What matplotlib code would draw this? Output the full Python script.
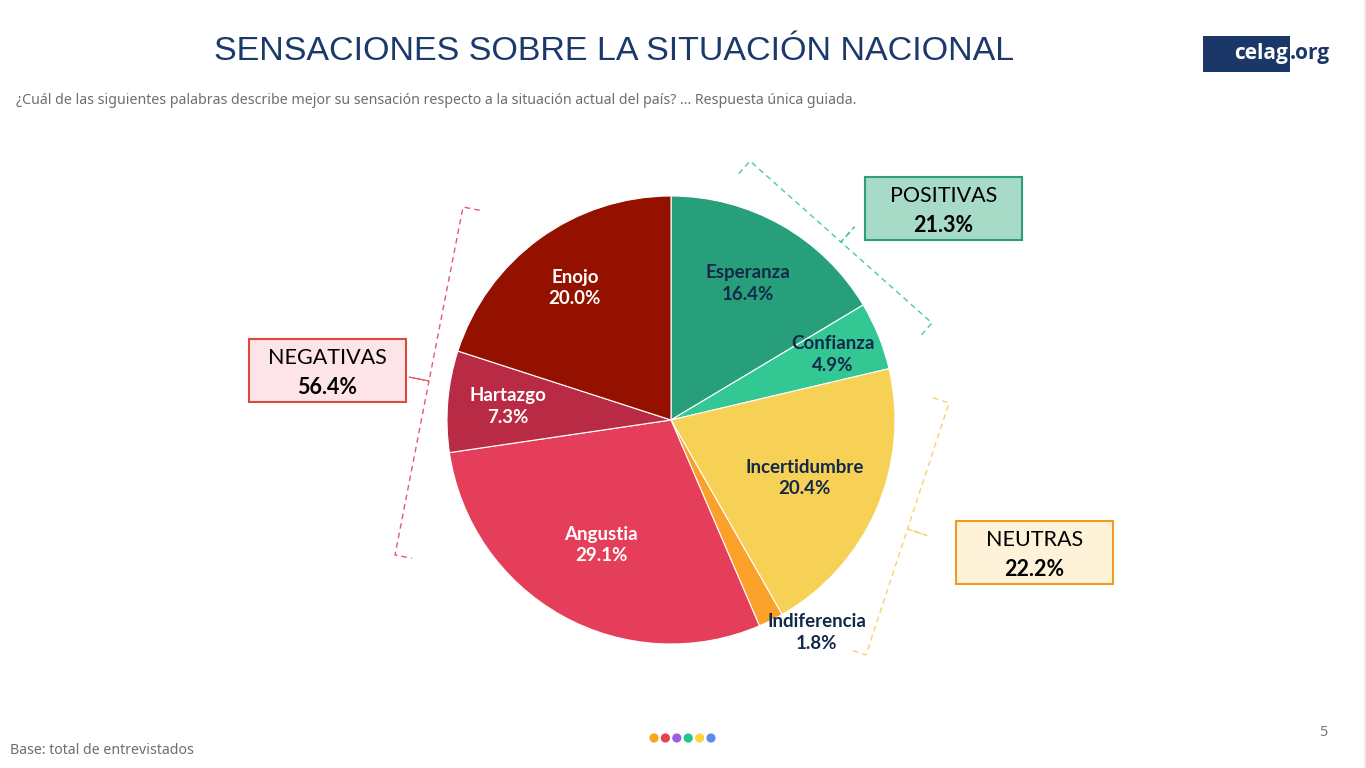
import numpy as np
import matplotlib
matplotlib.use("Agg")
import matplotlib.pyplot as plt
from matplotlib.patches import Rectangle, Circle

# data
categories = ["Esperanza", "Confianza", "Incertidumbre", "Indiferencia", "Angustia", "Hartazgo", "Enojo"]
values = [16.4, 4.9, 20.4, 1.8, 29.1, 7.3, 20.0]
colors = ["#279F7A", "#33C794", "#F7D155", "#FBA12A", "#E43E5A", "#B92B44", "#941100"]
text_colors = ["#13294B", "#13294B", "#13294B", "#13294B", "white", "white", "white"]

groups = ["POSITIVAS", "NEGATIVAS", "NEUTRAS"]
group_totals = [21.3, 56.4, 22.2]

title = "SENSACIONES SOBRE LA SITUACIÓN NACIONAL"
subtitle = ("¿Cuál de las siguientes palabras describe mejor su sensación respecto a la "
            "situación actual del país? ... Respuesta única guiada.")
footer = "Base: total de entrevistados"

# layout (pixels, y down)
cx, cy, R = 671, 420, 224
label_r = [0.70, 0.78, 0.65, 1.15, 0.64, 0.73, 0.73]
label_shift = [0, 0, 0, -8, 0, 0, 0]

fig = plt.figure(figsize=(13.66, 7.68), dpi=100)
ax = fig.add_axes([0, 0, 1, 1])

# inverted y -> counterclockwise in data looks clockwise on screen
wedges, _ = ax.pie(values, colors=colors, startangle=270, counterclock=True,
                   center=(cx, cy), radius=R, frame=True,
                   wedgeprops=dict(edgecolor="white", linewidth=0.8))
ax.set_xlim(0, 1366)
ax.set_ylim(768, 0)
ax.set_aspect("equal")
ax.axis("off")

for w, name, v, tc, rf, sh in zip(wedges, categories, values, text_colors, label_r, label_shift):
    a = np.deg2rad((w.theta1 + w.theta2) / 2 + sh)
    x = cx + R * rf * np.cos(a)
    y = cy + R * rf * np.sin(a)
    ax.text(x, y, f"{name}\n{v:.1f}%", ha="center", va="center", color=tc,
            fontsize=13.5, fontweight="bold", family="Lato", linespacing=1.32)


def brace(p1, p2, normal, color, hook=17, tip=20):
    p1, p2, n = np.array(p1, float), np.array(p2, float), np.array(normal, float)
    n = n / np.linalg.norm(n)
    m = (p1 + p2) / 2
    pts = np.array([p1 - n * hook, p1, m, m + n * tip, m, p2, p2 - n * hook])
    ax.plot(pts[:, 0], pts[:, 1], color=color, lw=1, ls=(0, (4, 3)))


brace((750, 161), (932, 323), (0.665, -0.747), "#4CCB9F")
brace((463, 207), (395, 555), (-0.981, -0.192), "#E8596F")
brace((949, 403), (866, 655), (0.950, 0.313), "#F6D36A")

boxes = [(865, 177, "#A8DAC8", "#2E9E7A"),
         (249, 339, "#FCE4E8", "#DD4B3E"),
         (956, 521, "#FEF3D9", "#EE9B1E")]
for (bx, by, fc, ec), g, t in zip(boxes, groups, group_totals):
    ax.add_patch(Rectangle((bx, by), 157, 63, facecolor=fc, edgecolor=ec, lw=1.5))
    ax.text(bx + 78.5, by + 19, g, ha="center", va="center", fontsize=15.5, family="Lato", color="black")
    ax.text(bx + 78.5, by + 49, f"{t:.1f}%", ha="center", va="center", fontsize=15.5,
            fontweight="bold", family="Lato", color="black")

# header
ax.text(614, 52, title, ha="center", va="center", fontsize=24.5, color="#1B3A6B", family="Liberation Sans")
ax.text(16, 100, subtitle, ha="left", va="center", fontsize=10.2, color="#6E6E6E", family="Noto Sans")

# logo
ax.add_patch(Rectangle((1203, 36), 87, 36, facecolor="#1B3767", edgecolor="none"))
ax.text(1288, 53, "celag", ha="right", va="center", fontsize=15, fontweight="bold",
        color="white", family="Open Sans")
ax.text(1290, 53, ".org", ha="left", va="center", fontsize=15, fontweight="bold",
        color="#1B3767", family="Open Sans")

# footer
ax.text(10, 751, footer, ha="left", va="center", fontsize=10.2, color="#6E6E6E", family="Noto Sans")
ax.text(1323, 733, "5", ha="center", va="center", fontsize=10.5, color="#7A7A7A", family="Noto Sans")
ax.add_patch(Rectangle((1363.5, 0), 2.5, 768, facecolor="#EBEBEB", edgecolor="none"))

dot_colors = ["#FBA51A", "#E8414E", "#9B5FE0", "#22C58B", "#FDD63F", "#5B8DEF"]
for i, c in enumerate(dot_colors):
    ax.add_patch(Circle((654 + i * 11.4, 738), 4.6, facecolor=c, edgecolor="none"))

fig.savefig("out.png", dpi=100)
